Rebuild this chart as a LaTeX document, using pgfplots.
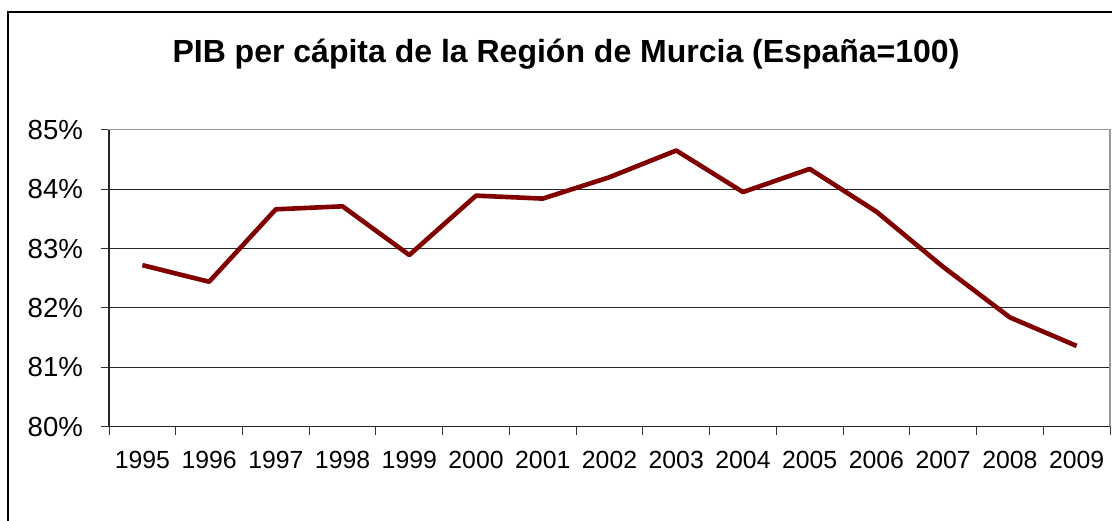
\documentclass[border=0pt]{standalone}
\usepackage{pgfplots}
\pgfplotsset{compat=1.18}
\usepackage{fontspec}
\setmainfont{Liberation Sans}
\definecolor{linered}{HTML}{800000}
\begin{document}
\begin{tikzpicture}
\useasboundingbox (0,0) rectangle (556pt,260pt);
\begin{scope}
\clip (0,0) rectangle (556pt,260pt);
\draw[line width=1pt,black] (3.75pt,-10pt) -- (3.75pt,253.75pt) -- (570pt,253.75pt);
\end{scope}
\node[font=\bfseries\fontsize{16}{19}\selectfont] at (283pt,233pt) {PIB per cápita de la Región de Murcia (España=100)};
\begin{axis}[
  at={(54.5pt,46.65pt)}, anchor=south west,
  scale only axis, width=500.5pt, height=148.5pt,
  xmin=-0.5, xmax=14.5, ymin=80, ymax=85,
  xtick={-0.5,0.5,...,14.5},
  x tick label as interval,
  xticklabels={1995,1996,1997,1998,1999,2000,2001,2002,2003,2004,2005,2006,2007,2008,2009},
  ytick={80,81,82,83,84,85},
  yticklabels={80\%,81\%,82\%,83\%,84\%,85\%},
  xtick pos=bottom, ytick pos=left,
  tick align=outside, major tick length=4pt,
  tick style={black!80, line width=0.5pt},
  xticklabel style={font=\fontsize{12.4}{14}\selectfont, yshift=-4.5pt},
  yticklabel style={font=\fontsize{13.8}{16}\selectfont, xshift=-5.5pt},
  ymajorgrids, major grid style={black!85, line width=0.5pt},
  axis line style={gray!80, line width=0.6pt},
  clip=false,
]
\addplot[linered, line width=2.3pt, line join=round] coordinates {
(0,82.72) (1,82.44) (2,83.66) (3,83.71) (4,82.89) (5,83.89) (6,83.84)
(7,84.20) (8,84.65) (9,83.95) (10,84.34) (11,83.62) (12,82.69) (13,81.84) (14,81.36)
};
\draw[black!85, line width=0.6pt] (rel axis cs:0,1) -- (rel axis cs:0,0) -- (rel axis cs:1,0);
\end{axis}
\end{tikzpicture}
\end{document}
